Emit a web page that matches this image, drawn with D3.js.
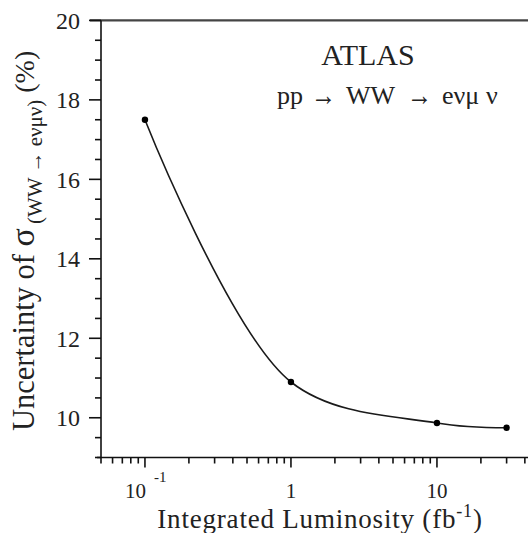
<!DOCTYPE html>
<html lang="en">
<style>
body { margin: 0; background: #fff; }
text { font-family: "Liberation Serif", "Times New Roman", serif; fill: #222; }
.axis line { stroke: #111; stroke-width: 1.6px; }
</style>
<script type="text/javascript" src="https://d3js.org/d3.v7.min.js"></script>
<body>
<script type="text/javascript">

// Data
var luminosity = [0.1, 1, 10, 30];          // fb^-1
var uncertainty = [17.5, 10.9, 9.87, 9.75]; // %
var yTicks = [10, 12, 14, 16, 18, 20];
var xTickLabels = [{v: 0.1, t: "10", sup: "-1"}, {v: 1, t: "1"}, {v: 10, t: "10"}];

var width = 528, height = 533;

var svg = d3.select("body").append("svg")
    .attr("width", width)
    .attr("height", height);

var x = d3.scaleLog().domain([0.05, 50]).range([101, 539]);
var y = d3.scaleLinear().domain([9, 20]).range([457.5, 20.4]);

// top frame line
svg.append("line")
    .attr("x1", 90).attr("x2", width)
    .attr("y1", y(20)).attr("y2", y(20))
    .attr("stroke", "#444").attr("stroke-width", 2.2);

// y axis: minor every 0.5, major labelled
var yMinor = d3.range(9, 20.01, 0.5);
var yAxis = svg.append("g").attr("class", "axis")
    .attr("transform", "translate(" + x(0.05) + ",0)");
yAxis.append("line").attr("y1", y(9)).attr("y2", y(20));
yAxis.selectAll(".tk").data(yMinor).enter().append("line")
    .attr("x1", function(d) { return yTicks.indexOf(d) >= 0 ? -12 : -6; })
    .attr("x2", 0)
    .attr("y1", function(d) { return y(d); })
    .attr("y2", function(d) { return y(d); });
yAxis.selectAll(".lb").data(yTicks).enter().append("text")
    .attr("x", -21)
    .attr("y", function(d) { return y(d); })
    .attr("dy", "0.35em")
    .attr("text-anchor", "end")
    .style("font-size", "24px")
    .text(function(d) { return d; });

// x axis: log ticks
var xMinor = [];
[0.01, 0.1, 1, 10].forEach(function(dec) {
  for (var i = 1; i <= 9; i++) {
    var v = +(dec * i).toPrecision(3);
    if (v >= 0.05 && v <= 50) xMinor.push(v);
  }
});
var xAxis = svg.append("g").attr("class", "axis")
    .attr("transform", "translate(0," + y(9) + ")");
xAxis.append("line").attr("x1", x(0.05) - 4).attr("x2", width);
xAxis.selectAll(".tk").data(xMinor).enter().append("line")
    .attr("x1", function(d) { return x(d); })
    .attr("x2", function(d) { return x(d); })
    .attr("y1", 0)
    .attr("y2", function(d) { return [0.1, 1, 10].indexOf(d) >= 0 ? 10 : 6; });

xTickLabels.forEach(function(d) {
  xAxis.append("text")
      .attr("x", x(d.v) + (d.sup ? 1 : 0))
      .attr("y", 40)
      .attr("text-anchor", d.sup ? "end" : "middle")
      .style("font-size", "21px")
      .text(d.t);
  if (d.sup) {
    xAxis.append("text")
        .attr("x", x(d.v) + 9)
        .attr("y", 24)
        .style("font-size", "15px")
        .text(d.sup);
  }
});

// axis titles
var xt = svg.append("text")
    .attr("x", 320).attr("y", 528)
    .attr("text-anchor", "middle")
    .style("font-size", "27px")
    .style("letter-spacing", "0.8px");
xt.append("tspan").text("Integrated Luminosity (fb");
xt.append("tspan").attr("dy", -11).style("font-size", "18px").text("-1");
xt.append("tspan").attr("dy", 11).text(")");

var yt = svg.append("text")
    .attr("transform", "translate(34,431) rotate(-90)")
    .style("font-size", "30.5px");
yt.append("tspan").text("Uncertainty of ");
yt.append("tspan").style("font-size", "34px").text("σ");
yt.append("tspan").attr("dx", 4).attr("dy", 8).style("font-size", "21px").text("(WW → eνμν)");
yt.append("tspan").attr("dy", -8).style("font-size", "28px").text(" (%)");

// annotation
svg.append("text")
    .attr("x", 368).attr("y", 65)
    .attr("text-anchor", "middle")
    .style("font-size", "30px")
    .text("ATLAS");

var reaction = [
  {t: "pp", x: 277},
  {t: "→", x: 311, w: 25},
  {t: "WW", x: 346},
  {t: "→", x: 407, w: 25},
  {t: "eνμ", x: 442},
  {t: "ν", x: 486}
];
reaction.forEach(function(r) {
  var t = svg.append("text")
      .attr("x", r.x).attr("y", 104)
      .style("font-size", r.w ? "30px" : "26px")
      .text(r.t);
  if (r.w) t.attr("y", 105).attr("textLength", r.w).attr("lengthAdjust", "spacingAndGlyphs");
});

// curve and points
var pts = luminosity.map(function(v, i) { return [x(v), y(uncertainty[i])]; });
svg.append("path")
    .attr("d", d3.line().curve(d3.curveCatmullRom.alpha(0.5))(pts))
    .attr("fill", "none")
    .attr("stroke", "#1a1a1a")
    .attr("stroke-width", 1.6);
svg.selectAll(".pt").data(pts).enter().append("circle")
    .attr("cx", function(d) { return d[0]; })
    .attr("cy", function(d) { return d[1]; })
    .attr("r", 3.2)
    .attr("fill", "#000");

</script>
</body>
</html>
